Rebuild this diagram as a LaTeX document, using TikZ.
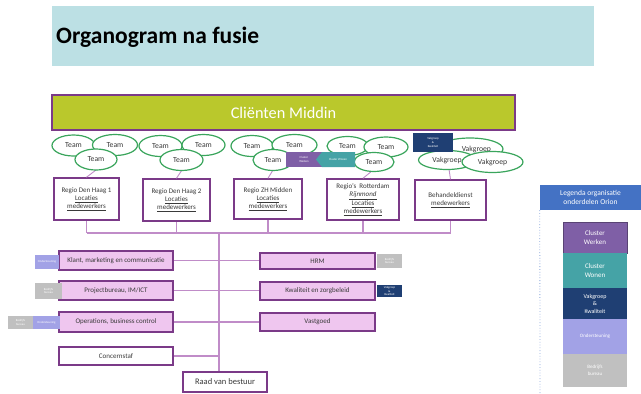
\documentclass[tikz,border=0pt]{standalone}
\usepackage{fontspec}
\setmainfont{Carlito}
\usetikzlibrary{shapes.geometric}
\definecolor{pborder}{HTML}{7B3A88}
\definecolor{pinkfill}{HTML}{EFC6EF}
\definecolor{lpurple}{HTML}{C08CC8}
\definecolor{tgreen}{HTML}{3AA55C}
\definecolor{limebar}{HTML}{BAC82C}
\definecolor{titlebg}{HTML}{BCE0E4}
\definecolor{textgrey}{HTML}{3A3A3A}
\definecolor{cwerken}{HTML}{7F5FA6}
\definecolor{cwonen}{HTML}{45A3A6}
\definecolor{vakq}{HTML}{1F3F73}
\definecolor{ondst}{HTML}{A2A2E6}
\definecolor{bedr}{HTML}{C0C0C0}
\definecolor{legblue}{HTML}{4472C4}
\begin{document}
\begin{tikzpicture}[x=1pt,y=-1pt,
  box/.style={draw=pborder, line width=1.5pt, inner sep=0pt, align=center,
    font=\fontsize{7}{8}\selectfont, text=textgrey},
  pinkbox/.style={box, fill=pinkfill},
  whitebox/.style={box, fill=white},
  team/.style={ellipse, draw=tgreen, line width=1.2pt, fill=white, inner sep=0pt,
    font=\fontsize{7.7}{8}\selectfont, text=textgrey},
  tag/.style={inner sep=0pt, align=center, font=\fontsize{3}{3.6}\selectfont, text=white},
  legitem/.style={inner sep=0pt, align=center, minimum width=64, text=white,
    font=\fontsize{7}{8.5}\selectfont},
  conn/.style={draw=lpurple, line width=1.2pt}]
\useasboundingbox (0,0) rectangle (641,394);

% title
\fill[titlebg] (52,6) rectangle (594,66);
\node[anchor=west, inner sep=0pt, font=\fontsize{23.5}{26}\selectfont\bfseries] (title) at (56,37) {Organogram na fusie};

% top bar
\node[draw=pborder, line width=1.8pt, fill=limebar, minimum width=463, minimum height=35,
  inner sep=0pt, text=white, font=\fontsize{16.3}{18}\selectfont] (cm) at (283.5,112.5) {Cliënten Middin};

% region boxes
\node[whitebox, minimum width=65, minimum height=42] (r1) at (86.5,199) {Regio Den Haag 1\\\underline{Locaties}\\\underline{medewerkers}};
\node[whitebox, minimum width=67, minimum height=42] (r2) at (176.5,200) {Regio Den Haag 2\\\underline{Locaties}\\\underline{medewerkers}};
\node[whitebox, minimum width=68, minimum height=40] (r3) at (268,199) {Regio ZH Midden\\\underline{Locaties}\\\underline{medewerkers}};
\node[whitebox, minimum width=72, minimum height=41] (r4) at (363,199.5) {Regio's\ \ Rotterdam\\\underline{\textit{Rijnmond}}\\\underline{Locaties}\\\underline{medewerkers}};
\node[whitebox, minimum width=71, minimum height=40] (r5) at (450.5,200) {Behandeldienst\\\underline{medewerkers}};

% ellipse groups
\coordinate (t1) at (96,170);
\coordinate (t2) at (182,170);
\coordinate (t3) at (273,170);
\coordinate (t4) at (372,171);
\coordinate (t5) at (449,169);
\draw[conn, line width=0.9pt] (t1) -- (r1.north);
\draw[conn, line width=0.9pt] (t2) -- (r2.north);
\draw[conn, line width=0.9pt] (t3) -- (r3.north);
\draw[conn, line width=0.9pt] (t4) -- (r4.north);
\draw[conn, line width=0.9pt] (t5) -- (r5.north);

\node[team, minimum width=43, minimum height=21] (e11) at (73.5,145.5) {Team};
\node[team, minimum width=45, minimum height=21] (e12) at (115,145) {Team};
\node[team, minimum width=42, minimum height=21] (e13) at (96,159.5) {Team};

\node[team, minimum width=43, minimum height=21] (e21) at (160.5,146) {Team};
\node[team, minimum width=43, minimum height=21] (e22) at (203.5,145) {Team};
\node[team, minimum width=43, minimum height=21] (e23) at (181.5,160) {Team};

\node[team, minimum width=42, minimum height=21] (e31) at (252,146) {Team};
\node[team, minimum width=45, minimum height=21] (e32) at (294.5,145) {Team};
\node[team, minimum width=40, minimum height=21] (e33) at (273,160) {Team};

\node[team, minimum width=41, minimum height=19] (e41) at (347.5,146) {Team};
\node[team, minimum width=44, minimum height=20] (e42) at (386,147) {Team};
\node[team, minimum width=40, minimum height=19] (e43) at (374,162) {Team};

\node[team, minimum width=66, minimum height=22, text width=42, align=right] (e51) at (470,149) {Vakgroep};
\node[team, minimum width=57, minimum height=19] (e52) at (447,160) {Vakgroep};
\node[team, minimum width=61, minimum height=21] (e53) at (492.5,162) {Vakgroep};

% small tags at top
\node[tag, fill=cwerken, minimum width=36, minimum height=15] (tw) at (304,159.5) {Cluster\\Werken};
\fill[cwonen] (322,152) -- (355,152) -- (355,167) -- (322,167) -- (316,159.5) -- cycle;
\node[tag] (two) at (338,159.5) {Cluster Wonen};
\node[tag, fill=vakq, minimum width=40, minimum height=19] (tv) at (433,142.5) {Vakgroep\\\&\\Kwaliteit};

% bus
\coordinate (bus) at (219,233);
\foreach \r in {r1,r2,r3,r4,r5} \draw[conn] (\r.south) -- (\r.south |- bus);
\draw[conn] (r1.south |- bus) -- (r5.south |- bus);

% staff boxes
\node[pinkbox, minimum width=114, minimum height=19] (klant) at (116,260.5) {Klant, marketing en communicatie};
\node[pinkbox, minimum width=114, minimum height=19] (proj) at (116,290.5) {Projectbureau, IM/ICT};
\node[pinkbox, minimum width=114, minimum height=20] (ops) at (116,322) {Operations, business control};
\node[whitebox, minimum width=114, minimum height=18] (concern) at (116,356) {Concernstaf};
\node[whitebox, minimum width=84, minimum height=20, font=\fontsize{8.5}{9}\selectfont] (raad) at (225,382) {Raad van bestuur};

\node[pinkbox, minimum width=115, minimum height=16] (hrm) at (317.5,261) {HRM};
\node[pinkbox, minimum width=115, minimum height=18] (kwal) at (317.5,291) {Kwaliteit en zorgbeleid};
\node[pinkbox, minimum width=115, minimum height=18] (vast) at (317.5,322) {Vastgoed};

\draw[conn] (bus) -- (bus |- raad.north);
\draw[conn] (klant.east) -- (klant.east -| hrm.west);
\draw[conn] (proj.east) -- (proj.east -| kwal.west);
\draw[conn] (ops.east) -- (ops.east -| vast.west);
\draw[conn] (concern.east) -- (concern.east -| bus);

% side tags
\node[tag, fill=ondst, minimum width=24, minimum height=14] (tk) at (47,262) {Ondersteuning};
\node[tag, fill=bedr, minimum width=27, minimum height=16] (tp) at (48.5,291) {Bedrijfs\\bureau};
\node[tag, fill=bedr, minimum width=25, minimum height=13] (to1) at (20.5,322.5) {Bedrijfs\\bureau};
\node[tag, fill=ondst, minimum width=27, minimum height=13] (to2) at (46.5,322.5) {Ondersteuning};
\node[tag, fill=bedr, minimum width=25, minimum height=14] (th) at (389.5,261) {Bedrijfs\\bureau};
\node[tag, fill=vakq, minimum width=25, minimum height=12] (tq) at (389.5,291) {Vakgroep\\\&\\Kwaliteit};

% legend
\node[fill=legblue, minimum width=101, minimum height=25, inner sep=0pt, align=center,
  text=white, font=\fontsize{7.5}{9}\selectfont] (leg) at (590.5,197.5) {Legenda organisatie\\onderdelen Orion};
\draw[draw=legblue!60, line width=0.8pt, dotted] (leg.south west) -- (540,394);
\node[legitem, fill=cwerken, draw=cwerken!70!black, line width=0.8pt, minimum height=31] (lw) at (595,237.5) {Cluster\\Werken};
\node[legitem, fill=cwonen, minimum height=35] (lwo) at (595,270.5) {Cluster\\Wonen};
\node[legitem, fill=vakq, minimum height=31, font=\fontsize{6}{7.5}\selectfont] (lv) at (595,303.5) {Vakgroep\\\&\\Kwaliteit};
\node[legitem, fill=ondst, minimum height=35, font=\fontsize{5}{6}\selectfont] (lo) at (595,336.5) {Ondersteuning};
\node[legitem, fill=bedr, minimum height=33, font=\fontsize{5}{6.5}\selectfont] (lb) at (595,370.5) {Bedrijfs\\bureau};
\end{tikzpicture}
\end{document}
